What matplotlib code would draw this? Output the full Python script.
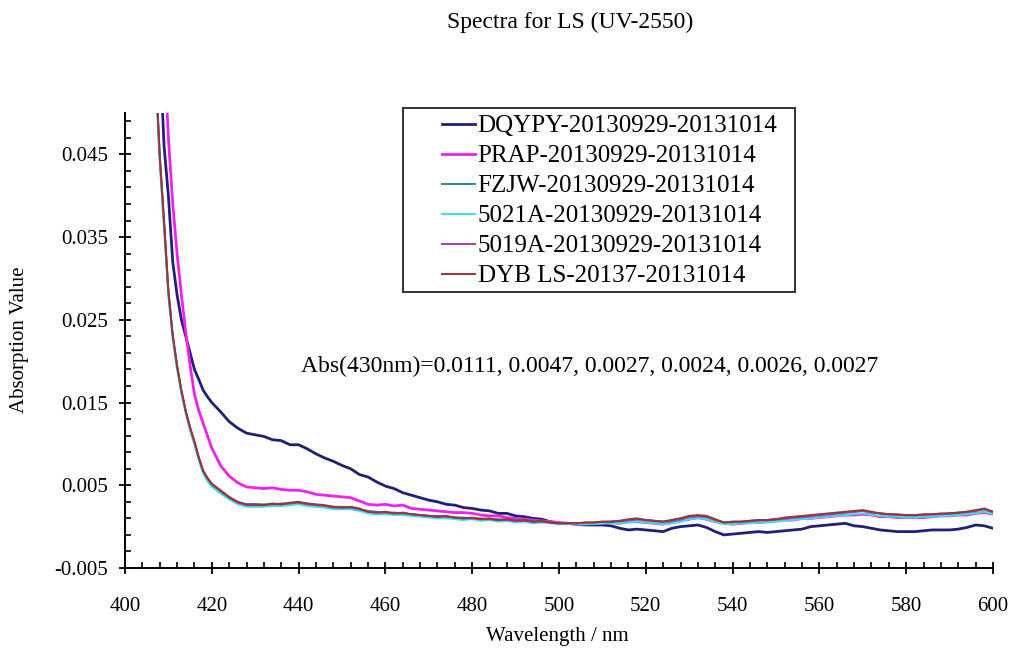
import numpy as np
import matplotlib.pyplot as plt
from matplotlib.patches import Rectangle
from matplotlib.ticker import FormatStrFormatter

plt.rcParams['font.family'] = ['Liberation Serif', 'DejaVu Serif']

# wavelength grid (nm)
wavelength = np.r_[np.arange(406, 420), np.arange(420, 601, 2)]

# absorption values, in units of 1e-4
dqypy = [900, 750, 580, 460, 400, 320, 280, 250, 230, 210, 190, 178, 165, 157,
         150, 139, 127, 119, 113, 111, 109, 105, 104, 99, 99, 94, 88, 83, 79, 74,
         70, 63, 60, 54, 49, 46, 41, 38, 35, 32, 30, 27, 26, 23, 22, 20, 19, 16,
         16, 13, 12, 10, 9, 6, 4,
         4, 3, 2, 2, 2, 1, -2, -4, -3, -4, -5, -6, -2, 0, 1, 2, -1, -6, -10, -9,
         -8, -7, -6, -7, -6, -5, -4, -3, 0, 1, 2, 3, 4, 1, 0, -2, -4, -5, -6, -6,
         -6, -5, -4, -4, -4, -3, -1, 2, 1, -2]
prap = [1000, 850, 700, 580, 470, 390, 330, 280, 235, 195, 160, 140, 125, 110,
        95, 74, 61, 53, 48, 47, 46, 47, 45, 44, 44, 42, 39, 38, 37, 36, 35, 31,
        27, 26, 27, 25, 26, 22, 21, 20, 19, 18, 17, 17, 16, 14, 13, 13, 11, 10,
        9, 8, 7, 6, 5,
        4, 3, 3, 4, 4, 5, 4, 6, 6, 5, 4, 3, 5, 7, 9, 11, 9, 6, 4, 3,
        4, 5, 5, 6, 7, 8, 8, 10, 10, 11, 12, 13, 14, 14, 15, 14, 12, 12, 11, 11,
        11, 11, 12, 13, 13, 14, 14, 16, 17, 15]
fzjw = [690, 555, 445, 365, 282, 230, 193, 163, 139, 119, 102, 83, 67, 58,
        51, 43, 35, 29, 27, 27, 27, 27, 28, 28, 29, 28, 26, 25, 24, 24, 23, 21,
        19, 18, 17, 17, 16, 15, 14, 13, 13, 12, 11, 11, 10, 10, 9, 9, 8, 8,
        7, 7, 6, 5, 4,
        4, 4, 4, 5, 5, 6, 6, 8, 9, 8, 7, 6, 7, 9, 12, 13, 12, 8, 5, 5,
        6, 7, 7, 8, 9, 10, 11, 12, 13, 14, 15, 16, 17, 18, 19, 17, 16, 15, 14, 14,
        13, 14, 15, 15, 16, 16, 17, 19, 21, 17]
a5021 = [680, 548, 440, 360, 278, 226, 190, 160, 136, 116, 99, 80, 64, 55,
         48, 40, 33, 27, 24, 24, 24, 25, 25, 26, 27, 25, 24, 23, 21, 21, 21, 19,
         16, 15, 15, 14, 14, 13, 12, 11, 10, 10, 9, 8, 9, 7, 8, 6, 7, 5,
         6, 4, 5, 4, 3,
         3, 3, 3, 3, 4, 4, 4, 5, 6, 5, 4, 3, 4, 6, 9, 10, 9, 6, 3, 3,
         4, 4, 5, 5, 6, 7, 8, 9, 10, 11, 12, 13, 14, 15, 16, 14, 13, 12, 12, 11,
         11, 12, 12, 13, 13, 14, 15, 16, 18, 15]
a5019 = [695, 558, 448, 368, 284, 231, 194, 164, 139, 119, 102, 83, 67, 58,
         51, 43, 35, 29, 26, 26, 26, 27, 27, 28, 29, 27, 26, 25, 23, 23, 23, 21,
         18, 17, 17, 16, 16, 15, 14, 13, 12, 12, 11, 10, 10, 9, 9, 8, 8, 7,
         7, 6, 6, 5, 4,
         4, 4, 5, 5, 6, 6, 7, 8, 9, 8, 7, 6, 8, 10, 12, 13, 12, 8, 5, 6,
         6, 7, 8, 8, 9, 10, 11, 12, 13, 14, 15, 16, 17, 18, 19, 17, 16, 15, 14, 14,
         14, 14, 15, 15, 16, 17, 18, 19, 21, 18]
dyb = [700, 560, 450, 370, 285, 232, 195, 165, 140, 120, 103, 84, 68, 59,
       52, 44, 36, 30, 27, 27, 26, 28, 27, 29, 30, 28, 27, 26, 24, 23, 24, 22,
       18, 17, 18, 16, 17, 15, 14, 13, 12, 13, 11, 10, 11, 9, 10, 8, 9, 7,
       8, 6, 7, 5, 4,
       4, 4, 5, 5, 6, 6, 7, 9, 10, 8, 7, 6, 8, 10, 13, 14, 13, 9, 5, 6,
       6, 7, 8, 8, 9, 11, 12, 13, 14, 15, 16, 17, 18, 19, 20, 18, 16, 15, 15, 14,
       14, 15, 15, 16, 16, 17, 18, 20, 22, 18]

labels = ['DQYPY-20130929-20131014', 'PRAP-20130929-20131014',
          'FZJW-20130929-20131014', '5021A-20130929-20131014',
          '5019A-20130929-20131014', 'DYB LS-20137-20131014']
series = [dqypy, prap, fzjw, a5021, a5019, dyb]
colors = ['#20207a', '#f020f0', '#2a8f8f', '#33e3ea', '#a040a0', '#983535']
widths = [2.0, 2.0, 1.4, 1.4, 1.4, 1.4]

W, H = 1010, 648
fig = plt.figure(figsize=(W/100, H/100), dpi=100)
ax = fig.add_axes([125/W, 1-568/H, (993-125)/W, (568-113)/H])

for vals, lab, c, lw in zip(series, labels, colors, widths):
    ax.plot(wavelength, np.array(vals)*1e-4, color=c, lw=lw, label=lab)

ax.set_xlim(400, 600)
ax.set_ylim(-0.005, 0.05)
ax.set_xticks(np.arange(400, 601, 20))
ax.set_xticks(np.arange(400, 601, 4), minor=True)
ax.set_yticks(np.arange(-0.005, 0.046, 0.01))
ax.set_yticks(np.arange(-0.005, 0.0501, 0.002), minor=True)
ax.yaxis.set_major_formatter(FormatStrFormatter('%.3f'))
ax.spines['top'].set_visible(False)
ax.spines['right'].set_visible(False)
for s in ['left', 'bottom']:
    ax.spines[s].set_linewidth(1.4)
ax.tick_params(which='major', direction='inout', length=8, width=1.3, labelsize=15)
ax.tick_params(which='minor', direction='in', length=4, width=1.2)
ax.tick_params(axis='x', which='major', pad=17)
ax.tick_params(axis='y', which='major', pad=8)

leg = ax.legend(loc='upper left', bbox_to_anchor=(442/W, 1-115/H),
                bbox_transform=fig.transFigure, frameon=False, fontsize=18,
                borderpad=0, borderaxespad=0, handlelength=1.32,
                handletextpad=0.1, labelspacing=0.3)
fig.patches.append(Rectangle((403/W, 1-292/H), (795-403)/W, (292-108)/H,
                             transform=fig.transFigure, fill=False,
                             edgecolor='#333333', lw=1.4))

fig.text(570/W, 1-22/H, 'Spectra for LS (UV-2550)', ha='center', va='center',
         fontsize=17)
fig.text(590/W, 1-366/H,
         'Abs(430nm)=0.0111, 0.0047, 0.0027, 0.0024, 0.0026, 0.0027',
         ha='center', va='center', fontsize=17)
fig.text(20/W, 1-340/H, 'Absorption Value', rotation=90, ha='center',
         va='center', fontsize=15)
fig.text(557/W, 1-636/H, 'Wavelength / nm', ha='center', va='center',
         fontsize=15)

fig.savefig('out.png', dpi=100)
